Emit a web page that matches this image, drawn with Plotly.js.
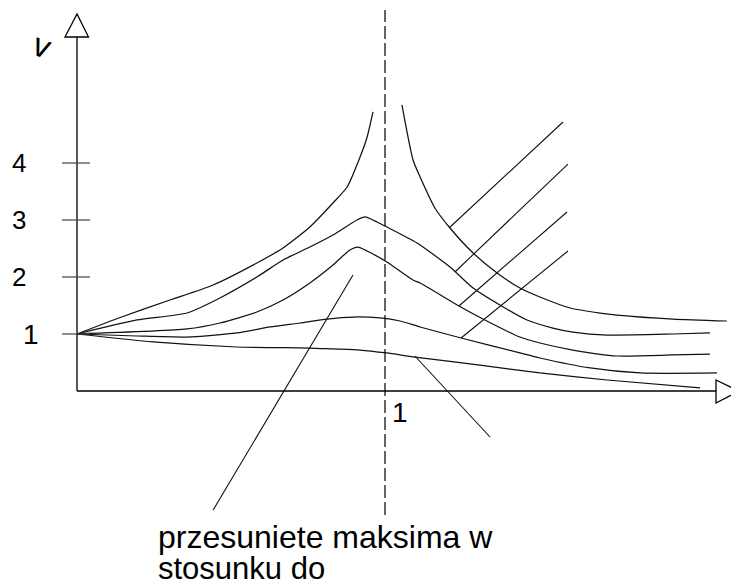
<!DOCTYPE html>
<html><head><meta charset="utf-8">
<script src="https://cdn.plot.ly/plotly-3.0.1.min.js"></script>
<style>html,body{margin:0;padding:0;background:#fff}#chart{width:731px;height:584px}</style>
</head><body><div id="chart"></div>
<script>
// ---- data (frequency ratio, amplitude) ----
const tickValues = [1, 2, 3, 4];
const tickLabels = ['1', '2', '3', '4'];
const xTickValue = 1;
const xTickLabel = '1';
const yAxisLabel = 'v';
const noteLine1 = 'przesuniete maksima w';
const noteLine2 = 'stosunku do';

// undamped curve, left branch
const aLeftX = [0, 0.14, 0.302, 0.442, 0.584, 0.669, 0.756, 0.831, 0.877, 0.919, 0.942, 0.961];
const aLeftY = [1, 1.29, 1.596, 1.86, 2.246, 2.509, 2.877, 3.298, 3.579, 4.105, 4.456, 4.895];
// undamped curve, right branch
const aRightX = [1.055, 1.091, 1.114, 1.162, 1.211, 1.286, 1.364, 1.438, 1.503, 1.601, 1.698, 1.753, 1.935, 2.110];
const aRightY = [5.018, 4.053, 3.754, 3.211, 2.860, 2.421, 2.070, 1.807, 1.649, 1.456, 1.368, 1.333, 1.263, 1.228];

const bX = [0, 0.195, 0.357, 0.464, 0.584, 0.669, 0.756, 0.831, 0.909, 0.935, 0.974, 1.006, 1.104, 1.211, 1.286, 1.373, 1.461, 1.545, 1.610, 1.721, 1.935, 2.055];
const bY = [1, 1.246, 1.368, 1.632, 2.0, 2.298, 2.526, 2.737, 3.0, 3.053, 2.965, 2.877, 2.596, 2.175, 1.807, 1.509, 1.246, 1.105, 1.035, 0.982, 1.0, 1.018];

const cX = [0, 0.357, 0.464, 0.584, 0.669, 0.756, 0.831, 0.886, 0.912, 0.942, 1.006, 1.091, 1.114, 1.240, 1.318, 1.438, 1.503, 1.610, 1.753, 1.935, 2.055];
const cY = [1, 1.088, 1.193, 1.386, 1.596, 1.895, 2.211, 2.474, 2.526, 2.456, 2.263, 1.947, 1.895, 1.491, 1.263, 0.947, 0.842, 0.719, 0.614, 0.632, 0.649];

const dX = [0, 0.195, 0.357, 0.519, 0.627, 0.724, 0.812, 0.896, 0.984, 1.049, 1.114, 1.247, 1.438, 1.503, 1.666, 1.828, 2.078];
const dY = [1, 0.965, 0.947, 1.018, 1.123, 1.193, 1.263, 1.298, 1.281, 1.228, 1.123, 0.930, 0.667, 0.579, 0.404, 0.316, 0.316];

const eX = [0, 0.247, 0.519, 0.756, 0.831, 0.919, 1.006, 1.097, 1.308, 1.503, 1.721, 2.023];
const eY = [1, 0.860, 0.772, 0.754, 0.737, 0.719, 0.667, 0.596, 0.456, 0.316, 0.193, 0.053];

// leader lines (start on a curve, end in free space)
const leaderX0 = [1.208, 1.227, 1.240, 1.247, 1.097, 0.896];
const leaderY0 = [2.860, 2.088, 1.491, 0.930, 0.614, 2.035];
const leaderX1 = [1.578, 1.594, 1.591, 1.594, 1.341, 0.442];
const leaderY1 = [4.719, 3.982, 3.140, 2.456, -0.807, -2.088];

// ---- drawing ----
const W = 731, H = 584;
const ox = 77, oy = 391, ux = 308, uy = 57;   // pixel origin and units
const px2x = p => (p - ox) / ux;
const py2y = p => (oy - p) / uy;
const FONT = 'Liberation Sans, Arial, sans-serif';

const curveLine = {color: '#111', width: 1.25, shape: 'spline', smoothing: 0.6};
const traces = [];
[[aLeftX, aLeftY], [aRightX, aRightY], [bX, bY], [cX, cY], [dX, dY], [eX, eY]].forEach(([x, y]) => {
  traces.push({x: x, y: y, type: 'scatter', mode: 'lines', line: curveLine, hoverinfo: 'skip', showlegend: false});
});
for (let i = 0; i < leaderX0.length; i++) {
  traces.push({x: [leaderX0[i], leaderX1[i]], y: [leaderY0[i], leaderY1[i]], type: 'scatter', mode: 'lines',
    line: {color: '#111', width: 1.1}, hoverinfo: 'skip', showlegend: false});
}

const shapes = [];
shapes.push({type: 'line', xref: 'x', yref: 'y', x0: 0, y0: 0, x1: 0, y1: py2y(37), line: {color: '#000', width: 1.3}});
shapes.push({type: 'line', xref: 'x', yref: 'y', x0: 0, y0: 0, x1: px2x(716), y1: 0, line: {color: '#000', width: 1.3}});
shapes.push({type: 'path', xref: 'x', yref: 'y',
  path: `M ${px2x(65)},${py2y(37)} L ${px2x(77)},${py2y(14)} L ${px2x(88.5)},${py2y(37)} Z`,
  fillcolor: '#fff', line: {color: '#000', width: 1.3}});
shapes.push({type: 'path', xref: 'x', yref: 'y',
  path: `M ${px2x(716)},${py2y(380)} L ${px2x(739)},${py2y(391)} L ${px2x(716)},${py2y(403)} Z`,
  fillcolor: '#fff', line: {color: '#000', width: 1.3}});
tickValues.forEach(v => {
  shapes.push({type: 'line', xref: 'x', yref: 'y', x0: px2x(62), x1: px2x(90), y0: v, y1: v, line: {color: '#444', width: 1.2}});
});
shapes.push({type: 'line', xref: 'x', yref: 'y', x0: xTickValue, x1: xTickValue, y0: py2y(515), y1: py2y(10),
  line: {color: '#000', width: 1.2, dash: '13px,4px'}});

const annotations = [];
tickLabels.forEach((t, i) => {
  const isOne = t === '1';
  annotations.push({xref: 'x', yref: 'y', x: px2x(isOne ? 31 : 18.5), y: tickValues[i], text: t, showarrow: false,
    xanchor: 'center', yanchor: 'middle', font: {family: FONT, size: isOne ? 28 : 26, color: '#000'}});
});
annotations.push({xref: 'x', yref: 'y', x: px2x(400), y: py2y(412), text: xTickLabel, showarrow: false,
  xanchor: 'center', yanchor: 'middle', font: {family: FONT, size: 28, color: '#000'}});
annotations.push({xref: 'x', yref: 'y', x: px2x(42), y: py2y(45), text: yAxisLabel, showarrow: false, textangle: 20,
  xanchor: 'center', yanchor: 'middle', font: {family: FONT, size: 33, color: '#000'}});
annotations.push({xref: 'x', yref: 'y', x: px2x(156), y: py2y(537), text: noteLine1, showarrow: false,
  xanchor: 'left', yanchor: 'middle', font: {family: FONT, size: 32, color: '#000'}});
annotations.push({xref: 'x', yref: 'y', x: px2x(156), y: py2y(568), text: noteLine2, showarrow: false,
  xanchor: 'left', yanchor: 'middle', font: {family: FONT, size: 31, color: '#000'}});

const layout = {
  width: W, height: H,
  margin: {l: 0, r: 0, t: 0, b: 0, pad: 0},
  paper_bgcolor: '#fff', plot_bgcolor: '#fff',
  xaxis: {range: [px2x(0), px2x(W)], visible: false, showgrid: false, zeroline: false, fixedrange: true},
  yaxis: {range: [py2y(H), py2y(0)], visible: false, showgrid: false, zeroline: false, fixedrange: true},
  shapes: shapes, annotations: annotations,
  showlegend: false, hovermode: false
};
Plotly.newPlot('chart', traces, layout, {displayModeBar: false, staticPlot: true});
</script>
</body></html>
